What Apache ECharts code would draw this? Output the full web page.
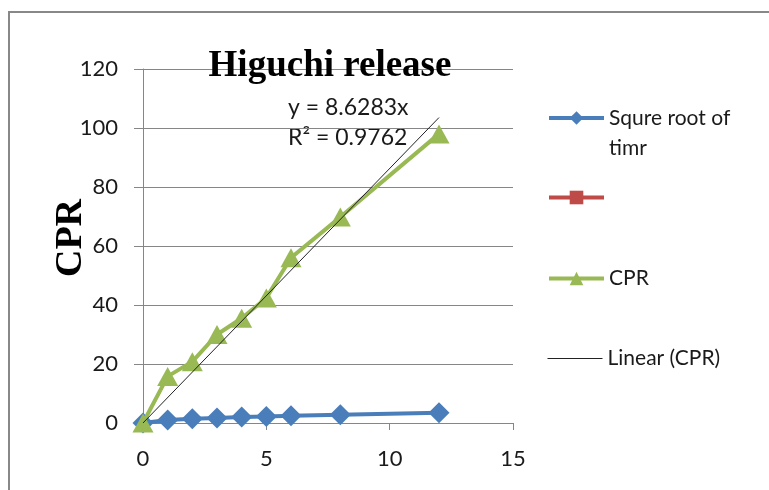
<!DOCTYPE html>
<html>
<head>
<meta charset="utf-8">
<title>Higuchi release</title>
<script src="https://cdn.jsdelivr.net/npm/echarts@6/dist/echarts.min.js"></script>
<style>
  html, body { margin: 0; padding: 0; background: #fff; }
  #chart { width: 769px; height: 490px; }
</style>
</head>
<body>
<div id="chart"></div>
<script>
// Time points (x) shared by all series
const timePoints = [0, 1, 2, 3, 4, 5, 6, 8, 12];
// Square root of time
const sqrtTime = [0, 1, 1.41, 1.73, 2, 2.24, 2.45, 2.83, 3.46];
// Cumulative percent released
const cprValues = [0, 15.8, 20.8, 30, 35.5, 42.4, 56, 69.8, 98];
// Linear trendline through the origin
const trendSlope = 8.6283;
const trendR2 = 0.9762;
const trendRange = [0, 12];
// Axis ticks
const xTicks = [0, 5, 10, 15];
const yTicks = [0, 20, 40, 60, 80, 100, 120];

const labelFont = 'Lato';
const axisGray = '#868686';

const pairs = (xs, ys) => xs.map((x, i) => [x, ys[i]]);
const trendData = trendRange.map(x => [x, +(trendSlope * x).toFixed(4)]);

const chart = echarts.init(document.getElementById('chart'), null, { renderer: 'canvas' });

const legendBase = {
  orient: 'vertical',
  left: 542,
  itemWidth: 55,
  itemHeight: 17,
  textStyle: { fontFamily: labelFont, fontSize: 21, color: '#1a1a1a' },
  lineStyle: { width: 4 },
  selectedMode: false
};

chart.setOption({
  animation: false,
  backgroundColor: '#ffffff',
  title: {
    text: 'Higuchi release',
    left: 325,
    top: 43,
    textAlign: 'center',
    textStyle: { fontFamily: 'Liberation Serif', fontWeight: 'bold', fontSize: 37, color: '#000' }
  },
  graphic: [
    {
      type: 'rect',
      silent: true,
      shape: { x: 9, y: 12, width: 900, height: 700 },
      style: { fill: null, stroke: '#888888', lineWidth: 2 }
    },
    {
      type: 'text',
      left: 288,
      top: 93,
      style: {
        text: 'y = ' + trendSlope + 'x\nR² = ' + trendR2,
        font: '23px ' + labelFont,
        lineHeight: 30,
        fill: '#1a1a1a'
      }
    }
  ],
  legend: [
    Object.assign({}, legendBase, {
      top: 68,
      data: ['Squre root of timr'],
      // blank first line keeps the marker level with the first text line
      formatter: () => ' \nSqure root of\ntimr',
      textStyle: Object.assign({}, legendBase.textStyle, { lineHeight: 30 })
    }),
    Object.assign({}, legendBase, { top: 182, data: [' '] }),
    Object.assign({}, legendBase, { top: 263, data: ['CPR'] }),
    Object.assign({}, legendBase, {
      top: 343,
      data: [{ name: 'Linear (CPR)', itemStyle: { opacity: 0 } }],
      lineStyle: { width: 1 }
    })
  ],
  grid: { left: 143, right: 256, top: 69, bottom: 67, containLabel: false },
  xAxis: {
    type: 'value',
    min: xTicks[0],
    max: xTicks[xTicks.length - 1],
    interval: xTicks[1] - xTicks[0],
    axisLine: { show: true, onZero: false, lineStyle: { color: axisGray, width: 1 } },
    axisTick: { show: true, inside: false, length: 7, lineStyle: { color: axisGray } },
    splitLine: { show: false },
    axisLabel: { margin: 25, fontFamily: labelFont, fontSize: 22, color: '#1a1a1a' }
  },
  yAxis: {
    type: 'value',
    min: yTicks[0],
    max: yTicks[yTicks.length - 1],
    interval: yTicks[1] - yTicks[0],
    name: 'CPR',
    nameLocation: 'middle',
    nameGap: 53,
    nameRotate: 90,
    nameMoveOverlap: false,
    nameTextStyle: { fontFamily: 'Liberation Serif', fontWeight: 'bold', fontSize: 38, color: '#000', padding: [0, 0, 0, 16] },
    axisLine: { show: true, lineStyle: { color: axisGray, width: 1 } },
    axisTick: { show: true, inside: false, length: 9, lineStyle: { color: axisGray } },
    splitLine: { show: true, lineStyle: { color: axisGray, width: 1 } },
    axisLabel: { margin: 25, fontFamily: labelFont, fontSize: 22, color: '#1a1a1a' }
  },
  series: [
    {
      name: 'Squre root of timr',
      type: 'line',
      data: pairs(timePoints, sqrtTime),
      symbol: 'diamond',
      symbolSize: [21, 21],
      lineStyle: { color: '#4a7ebb', width: 4 },
      itemStyle: { color: '#4a7ebb' },
      z: 3
    },
    {
      name: ' ',
      type: 'line',
      data: [],
      symbol: 'rect',
      symbolSize: 14,
      lineStyle: { color: '#be4b48', width: 4 },
      itemStyle: { color: '#be4b48' }
    },
    {
      name: 'CPR',
      type: 'line',
      data: pairs(timePoints, cprValues),
      symbol: 'triangle',
      symbolSize: [21, 19],
      lineStyle: { color: '#98b954', width: 4 },
      itemStyle: { color: '#98b954' },
      z: 4
    },
    {
      name: 'Linear (CPR)',
      type: 'line',
      data: trendData,
      symbol: 'none',
      lineStyle: { color: '#222222', width: 1 },
      itemStyle: { color: '#222222' },
      z: 5
    }
  ]
});
</script>
</body>
</html>
